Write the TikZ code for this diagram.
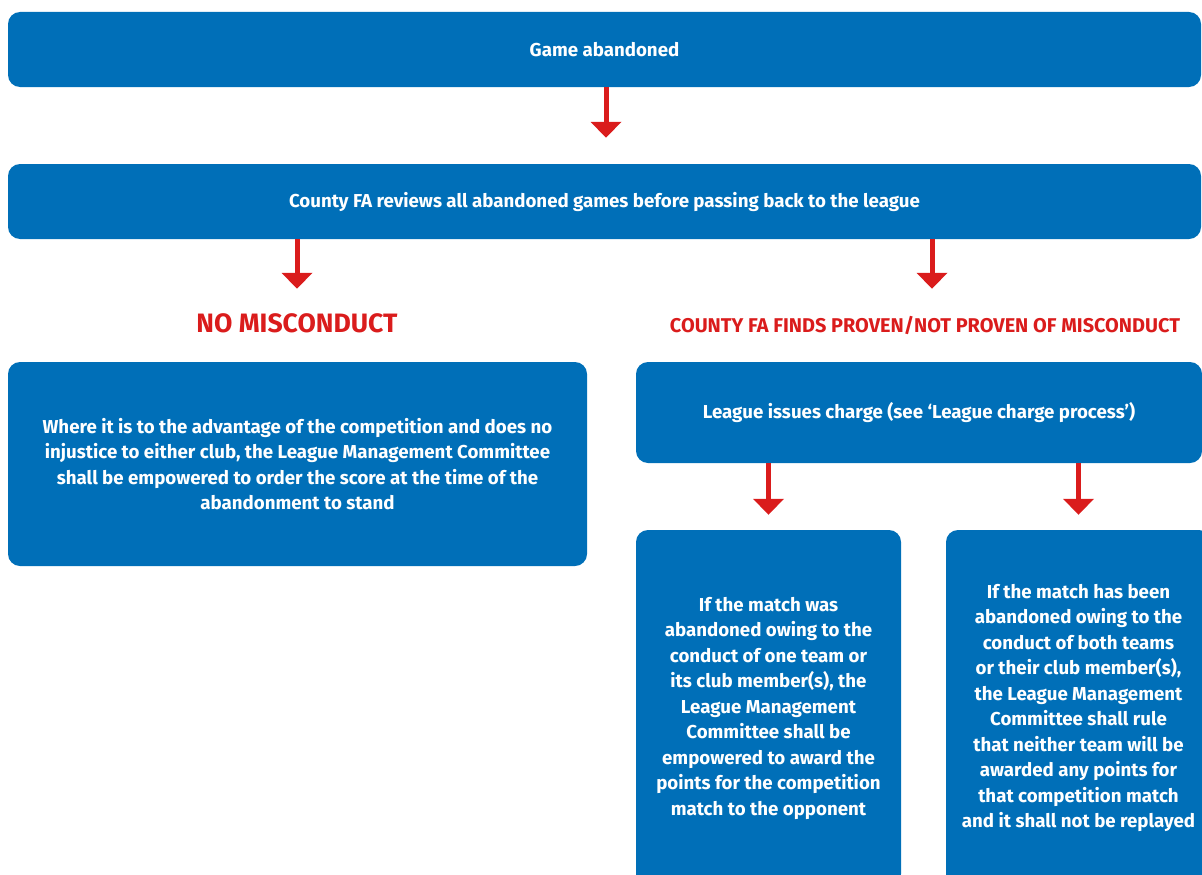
\documentclass[tikz,border=0pt]{standalone}
\usepackage{fontspec}
\usepackage{tikz}
\usetikzlibrary{arrows.meta,positioning}
\setmainfont{Fira Sans}
\definecolor{FABlue}{RGB}{0,111,184}
\definecolor{FARed}{RGB}{218,28,28}

\begin{document}
\begin{tikzpicture}[x=1pt, y=-1pt,
    box/.style={rectangle, rounded corners=12pt, fill=FABlue, text=white, font=\fontsize{18.7}{25.5}\selectfont\bfseries, align=center, inner sep=0pt},
    head/.style={text=FARed, inner sep=0pt},
    flow/.style={-{Triangle[width=30pt,length=16pt]}, line width=5pt, FARed}]
      \useasboundingbox (0,0) rectangle (1202,875);
      \clip (0,0) rectangle (1202,875);
      \node[box, minimum width=1193pt, minimum height=75pt] (game) at (604.5,49.5) {Game abandoned};
      \node[box, minimum width=1193pt, minimum height=75pt] (review) at (604.5,201.5) {County FA reviews all abandoned games before passing back to the league};
      \node[head, font=\fontsize{26.6}{28}\selectfont\bfseries] (nomis) at (297,323) {NO MISCONDUCT};
      \node[head, font=\fontsize{19.9}{22}\selectfont\bfseries] (found) at (925,325) {COUNTY FA FINDS PROVEN/NOT PROVEN OF MISCONDUCT};
      \node[box, minimum width=579pt, minimum height=204pt] (stand) at (297.5,464) {Where it is to the advantage of the competition and does no\\injustice to either club, the League Management Committee\\shall be empowered to order the score at the time of the\\abandonment to stand};
      \node[box, minimum width=566pt, minimum height=101pt] (charge) at (919,412.5) {League issues charge (see ‘League charge process’)};
      \node[box, minimum width=265pt, minimum height=356pt] (oneteam) at (768.5,708) {If the match was\\abandoned owing to the\\conduct of one team or\\its club member(s), the\\League Management\\Committee shall be\\empowered to award the\\points for the competition\\match to the opponent};
      \node[box, minimum width=265pt, minimum height=356pt] (bothteams) at (1078.5,708) {If the match has been\\abandoned owing to the\\conduct of both teams\\or their club member(s),\\the League Management\\Committee shall rule\\that neither team will be\\awarded any points for\\that competition match\\and it shall not be replayed};
      % arrows between the stages
      \draw[flow, shorten >=26pt] ([xshift=1.5pt]game.south) -- ([xshift=1.5pt]review.north);
      \draw[flow, shorten >=73pt] (review.south -| nomis) -- (stand.north -| nomis);
      \draw[flow, shorten >=73pt] ([xshift=7pt]review.south -| found) -- ([xshift=7pt]charge.north -| found);
      \draw[flow, shorten >=15pt] (charge.south -| oneteam) -- (oneteam.north);
      \draw[flow, shorten >=15pt] (charge.south -| bothteams) -- (bothteams.north);
    \end{tikzpicture}
\end{document}
